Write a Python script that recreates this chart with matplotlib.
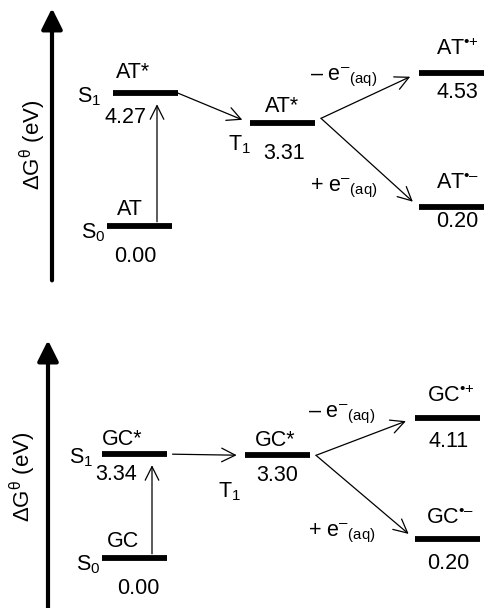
import matplotlib
matplotlib.use("Agg")
import matplotlib.pyplot as plt

plt.rcParams['font.family'] = ['Liberation Sans', 'DejaVu Sans']
plt.rcParams['mathtext.fontset'] = 'custom'
plt.rcParams['mathtext.rm'] = 'Liberation Sans'
plt.rcParams['mathtext.it'] = 'Liberation Sans:italic'
plt.rcParams['mathtext.default'] = 'regular'

# energies (eV): S0, S1, T1, cation, anion
at_energies = [0.00, 4.27, 3.31, 4.53, 0.20]
gc_energies = [0.00, 3.34, 3.30, 4.11, 0.20]
at_names = ['AT', 'AT*', 'AT*', 'AT$^{\u2022{+}}$', 'AT$^{\u2022\u2013}$']
gc_names = ['GC', 'GC*', 'GC*', 'GC$^{\u2022{+}}$', 'GC$^{\u2022\u2013}$']
state_labels = ['S$_1$', 'S$_0$', 'T$_1$']
ion_labels = ['\u2013 e$^{\u2013}{}_{(aq)}$', '+ e$^{\u2013}{}_{(aq)}$']

PX = 0.72      # points per pixel at dpi 100
ION_SHIFT = 0.4
FS = 15.5


def lab(ax, x, y, s, dx, dy, fs=FS, ha='center'):
    # dx, dy in pixels, dy positive downwards
    ax.annotate(s, xy=(x, y), xytext=(dx * PX, -dy * PX), textcoords='offset points',
                ha=ha, va='center_baseline', fontsize=fs)


def arrow(ax, p0, p1, sa=0, sb=0):
    ax.annotate('', xy=p1, xytext=p0,
                arrowprops=dict(arrowstyle='->,head_length=0.7,head_width=0.35', lw=0.9,
                                color='black', shrinkA=sa, shrinkB=sb, mutation_scale=14))


def panel(ax, E, names, xs, top):
    ax.set_xlim(0, 484)
    ax.set_ylim(-2.4, 7.2)
    ax.axis('off')
    w = 65
    s0x, s1x, t1x, ionx, axx, labx = xs
    yE = [E[0], E[1], E[2], E[3] + ION_SHIFT, E[4] + ION_SHIFT]
    lefts = [s0x, s1x, t1x, ionx, ionx]
    for x, y in zip(lefts, yE):
        ax.hlines(y, x, x + w, color='black', lw=4.2)

    # vertical axis arrow
    ax.annotate('', xy=(axx, 7.0), xytext=(axx, -1.75 if top else -2.4),
                arrowprops=dict(arrowstyle='-|>,head_length=0.9,head_width=0.45', lw=3,
                                color='black', shrinkA=0, shrinkB=0, mutation_scale=14))
    ax.text(labx, 2.6, '\u0394G$^{\u03b8}$ (eV)', rotation=90, ha='center', va='center',
            fontsize=16)

    # excitation S0 -> S1
    ex = s1x + 44 if top else s1x + 50
    arrow(ax, (ex, yE[0]), (ex, yE[1]), sa=3, sb=8)
    # S1 -> T1
    arrow(ax, (s1x + w, yE[1]), (t1x, yE[2]), sa=0 if top else 4, sb=6)
    # T1 -> ions
    start = (t1x + w + 6, yE[2] + 0.15 if top else yE[2])
    arrow(ax, start, (ionx, yE[3]), sb=7)
    arrow(ax, start, (ionx, yE[4]), sb=6)

    c0, c1, ct, ci = s0x + w / 2, s1x + w / 2, t1x + w / 2, ionx + w / 2
    # S0
    lab(ax, c0, yE[0], names[0], -10 if top else -12, -19)
    lab(ax, s0x, yE[0], state_labels[1], -2 if top else -2, 4, ha='right')
    lab(ax, c0, yE[0], '%.2f' % E[0], -4 if top else 4, 28)
    # S1
    lab(ax, c1, yE[1], names[1], -12, -23 if top else -17)
    lab(ax, s1x, yE[1], state_labels[0], -12 if top else -9, 1, ha='right')
    lab(ax, c1, yE[1], '%.2f' % E[1], -20 if top else -18, 22 if top else 18)
    # T1
    lab(ax, ct, yE[2], names[2], 0 if top else -2, -19 if top else -17)
    lab(ax, t1x, yE[2], state_labels[2], 1 if top else -4, 19 if top else 34, ha='right')
    lab(ax, ct, yE[2], '%.2f' % E[2], 2 if top else 0, 28 if top else 18)
    # ions
    lab(ax, ci, yE[3], names[3], 6 if top else 3, -26 if top else -24)
    lab(ax, ci, yE[3], '%.2f' % E[3], 6 if top else 1, 17 if top else 21)
    lab(ax, ci, yE[4], names[4], 6 if top else 3, -26 if top else -23)
    lab(ax, ci, yE[4], '%.2f' % E[4], 6 if top else 1, 12 if top else 22)
    lab(ax, ionx, yE[3], ion_labels[0], -109 if top else -107, 0 if top else -8, ha='left')
    lab(ax, ionx, yE[4], ion_labels[1], -109 if top else -107, -23 if top else -10, ha='left')


fig = plt.figure(figsize=(4.84, 6.08), dpi=100)
ax1 = fig.add_axes([0, 0.5056, 1, 0.4911])
ax2 = fig.add_axes([0, -0.0405, 1, 0.4911])
panel(ax1, at_energies, at_names, [107, 113, 250, 419, 52, 33], True)
panel(ax2, gc_energies, gc_names, [102, 102, 245, 415, 48, 23], False)

fig.savefig('out.png', dpi=100)
